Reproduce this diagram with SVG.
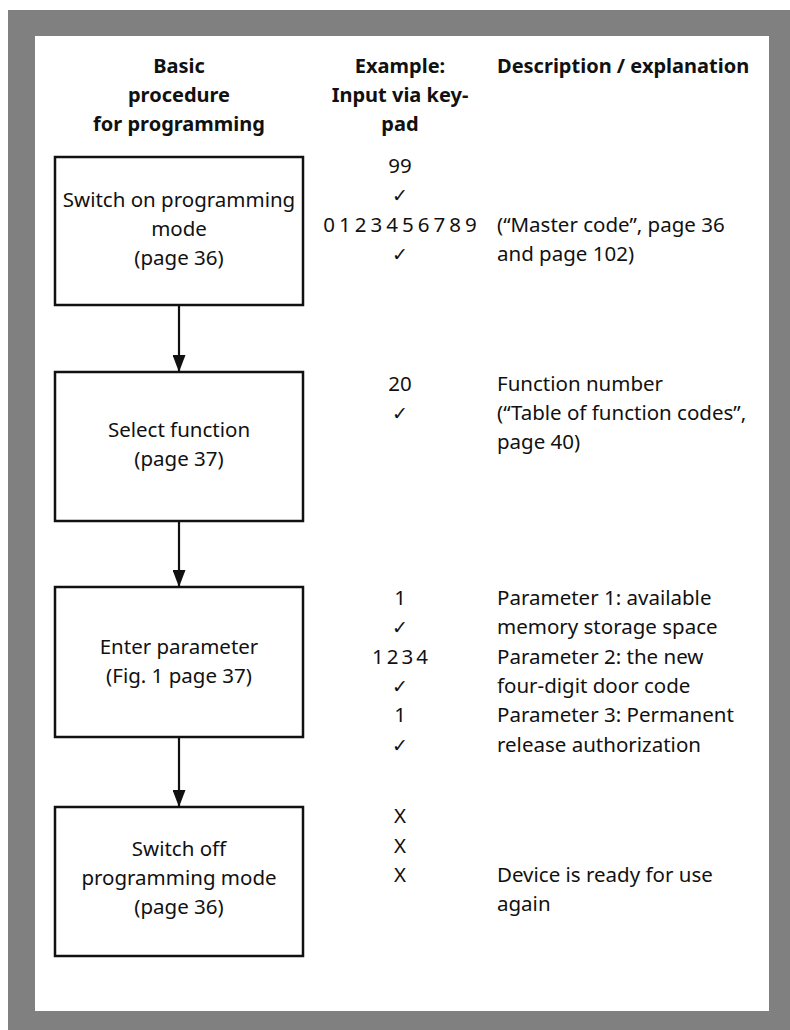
<svg xmlns="http://www.w3.org/2000/svg" width="790" height="1030" viewBox="0 0 790 1030">
  <style>
    .frame { fill: #808080; }
    .sheet { fill: #ffffff; }
    .box { fill: #ffffff; stroke: #111111; stroke-width: 2.5; }
    .wire { stroke: #111111; stroke-width: 2.2; fill: none; }
    .head { font-family: "Noto Sans", "Open Sans", sans-serif; font-weight: bold; font-size: 20px; fill: #111111; }
    .lbl { font-family: "Noto Sans", "Open Sans", sans-serif; font-size: 20.5px; fill: #111111; }
    .mid { text-anchor: middle; }
    .chk { font-family: "DejaVu Sans", sans-serif; font-size: 19px; fill: #111111; text-anchor: middle; }
  </style>
  <defs>
    <marker id="arrow" markerUnits="userSpaceOnUse" markerWidth="17" markerHeight="13" refX="17" refY="6.5" viewBox="0 0 17 13" orient="auto">
      <path d="M0,0 L17,6.5 L0,13 Z" fill="#111111"/>
    </marker>
  </defs>

  <!-- page frame -->
  <rect class="frame" x="8" y="10" width="782" height="1020"/>
  <rect class="sheet" x="35" y="36" width="734" height="975"/>

  <!-- column headings -->
  <g id="headings">
    <text class="head mid" x="179" y="73">Basic</text>
    <text class="head mid" x="179" y="102">procedure</text>
    <text class="head mid" x="179" y="131">for programming</text>
    <text class="head mid" x="400" y="73">Example:</text>
    <text class="head mid" x="400" y="102">Input via key-</text>
    <text class="head mid" x="400" y="131">pad</text>
    <text class="head" x="497" y="73">Description / explanation</text>
  </g>

  <!-- connectors -->
  <g id="connectors">
    <line class="wire" x1="179" y1="305" x2="179" y2="372" marker-end="url(#arrow)"/>
    <line class="wire" x1="179" y1="521" x2="179" y2="587" marker-end="url(#arrow)"/>
    <line class="wire" x1="179" y1="737" x2="179" y2="807" marker-end="url(#arrow)"/>
  </g>

  <!-- step 1 -->
  <g id="step-switch-on">
    <rect class="box" x="55" y="157" width="248" height="148"/>
    <text class="lbl mid" x="179" y="207">Switch on programming</text>
    <text class="lbl mid" x="179" y="236">mode</text>
    <text class="lbl mid" x="179" y="265">(page 36)</text>
  </g>
  <g id="input-switch-on">
    <text class="lbl mid" x="400" y="173">99</text>
    <text class="chk" x="400" y="202">✓</text>
    <text class="lbl mid" x="402" y="232" letter-spacing="4">0123456789</text>
    <text class="chk" x="400" y="261">✓</text>
  </g>
  <g id="desc-switch-on">
    <text class="lbl" x="497" y="232">(“Master code”, page 36</text>
    <text class="lbl" x="497" y="261">and page 102)</text>
  </g>

  <!-- step 2 -->
  <g id="step-select">
    <rect class="box" x="55" y="372" width="248" height="149"/>
    <text class="lbl mid" x="179" y="437">Select function</text>
    <text class="lbl mid" x="179" y="466">(page 37)</text>
  </g>
  <g id="input-select">
    <text class="lbl mid" x="400" y="391">20</text>
    <text class="chk" x="400" y="420">✓</text>
  </g>
  <g id="desc-select">
    <text class="lbl" x="497" y="391">Function number</text>
    <text class="lbl" x="497" y="420">(“Table of function codes”,</text>
    <text class="lbl" x="497" y="449">page 40)</text>
  </g>

  <!-- step 3 -->
  <g id="step-parameter">
    <rect class="box" x="55" y="587" width="248" height="150"/>
    <text class="lbl mid" x="179" y="654">Enter parameter</text>
    <text class="lbl mid" x="179" y="683">(Fig. 1 page 37)</text>
  </g>
  <g id="input-parameter">
    <text class="lbl mid" x="400" y="605">1</text>
    <text class="chk" x="400" y="634">✓</text>
    <text class="lbl mid" x="401.5" y="664" letter-spacing="3">1234</text>
    <text class="chk" x="400" y="693">✓</text>
    <text class="lbl mid" x="400" y="722">1</text>
    <text class="chk" x="400" y="752">✓</text>
  </g>
  <g id="desc-parameter">
    <text class="lbl" x="497" y="605">Parameter 1: available</text>
    <text class="lbl" x="497" y="634">memory storage space</text>
    <text class="lbl" x="497" y="664">Parameter 2: the new</text>
    <text class="lbl" x="497" y="693">four-digit door code</text>
    <text class="lbl" x="497" y="722">Parameter 3: Permanent</text>
    <text class="lbl" x="497" y="752">release authorization</text>
  </g>

  <!-- step 4 -->
  <g id="step-switch-off">
    <rect class="box" x="55" y="807" width="248" height="149"/>
    <text class="lbl mid" x="179" y="856">Switch off</text>
    <text class="lbl mid" x="179" y="885">programming mode</text>
    <text class="lbl mid" x="179" y="914">(page 36)</text>
  </g>
  <g id="input-switch-off">
    <text class="lbl mid" x="400" y="823">X</text>
    <text class="lbl mid" x="400" y="853">X</text>
    <text class="lbl mid" x="400" y="882">X</text>
  </g>
  <g id="desc-switch-off">
    <text class="lbl" x="497" y="882">Device is ready for use</text>
    <text class="lbl" x="497" y="911">again</text>
  </g>
</svg>
